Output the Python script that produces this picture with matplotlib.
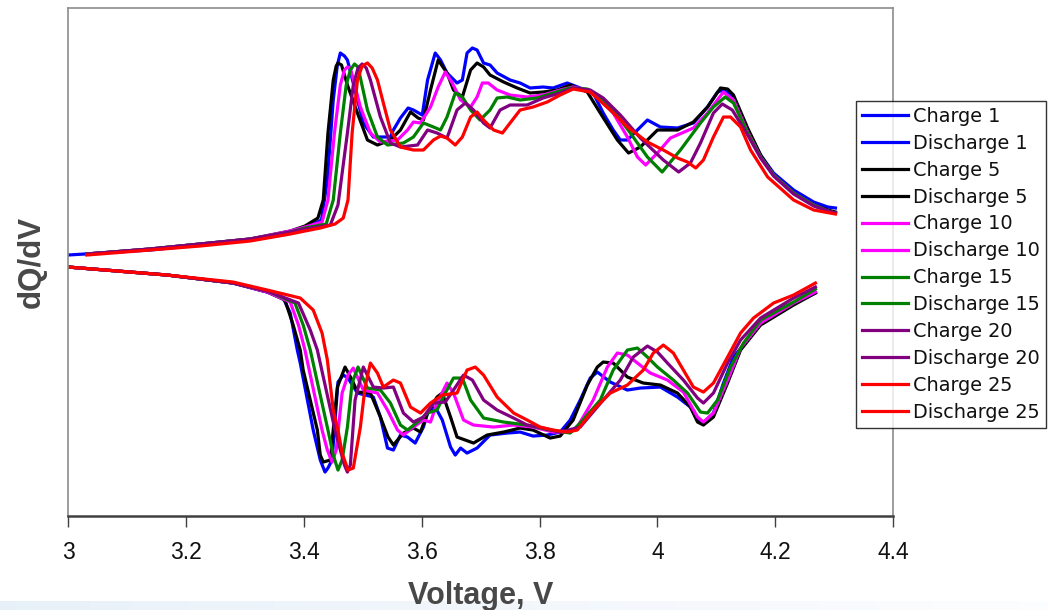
import matplotlib
matplotlib.use("Agg")
import matplotlib.pyplot as plt
import numpy as np

# dQ/dV curves: (voltage V, dQ/dV arbitrary units)
charge_1 = [(3.000, 0.07), (3.139, 0.12), (3.224, 0.17), (3.309, 0.22), (3.377, 0.30), (3.402, 0.34),
            (3.430, 0.42), (3.440, 0.82), (3.450, 1.62), (3.457, 1.97), (3.462, 2.09), (3.469, 2.06),
            (3.474, 2.02), (3.487, 1.72), (3.501, 1.39), (3.518, 1.25), (3.547, 1.25), (3.552, 1.32),
            (3.564, 1.44), (3.577, 1.54), (3.586, 1.52), (3.601, 1.47), (3.610, 1.82), (3.623, 2.09),
            (3.632, 2.02), (3.643, 1.89), (3.660, 1.79), (3.669, 1.82), (3.677, 2.09), (3.686, 2.14),
            (3.694, 2.12), (3.705, 1.99), (3.716, 1.97), (3.728, 1.89), (3.750, 1.82), (3.767, 1.79),
            (3.784, 1.74), (3.806, 1.75), (3.823, 1.74), (3.847, 1.79), (3.869, 1.74), (3.891, 1.69),
            (3.908, 1.49), (3.925, 1.32), (3.937, 1.22), (3.949, 1.22), (3.966, 1.32), (3.983, 1.42),
            (4.005, 1.35), (4.034, 1.34), (4.061, 1.39), (4.085, 1.55), (4.102, 1.70), (4.112, 1.72),
            (4.129, 1.65), (4.153, 1.32), (4.175, 1.07), (4.197, 0.89), (4.231, 0.72), (4.265, 0.60),
            (4.289, 0.55), (4.302, 0.54)]

charge_5 = [(3.032, 0.08), (3.139, 0.13), (3.224, 0.18), (3.309, 0.23), (3.377, 0.31), (3.402, 0.36),
            (3.424, 0.44), (3.433, 0.62), (3.441, 1.29), (3.450, 1.82), (3.455, 1.96), (3.458, 1.99),
            (3.464, 1.97), (3.474, 1.77), (3.491, 1.49), (3.508, 1.22), (3.525, 1.17), (3.547, 1.22),
            (3.564, 1.32), (3.581, 1.50), (3.594, 1.44), (3.603, 1.42), (3.615, 1.72), (3.628, 2.02),
            (3.643, 1.89), (3.654, 1.72), (3.669, 1.65), (3.683, 1.92), (3.694, 1.99), (3.705, 1.95),
            (3.716, 1.87), (3.739, 1.80), (3.762, 1.74), (3.784, 1.69), (3.806, 1.70), (3.830, 1.72),
            (3.852, 1.77), (3.881, 1.70), (3.903, 1.49), (3.932, 1.22), (3.951, 1.09), (3.971, 1.15),
            (4.000, 1.32), (4.034, 1.32), (4.061, 1.40), (4.085, 1.55), (4.107, 1.74), (4.119, 1.73),
            (4.129, 1.67), (4.153, 1.34), (4.175, 1.07), (4.197, 0.87), (4.231, 0.69), (4.265, 0.57),
            (4.289, 0.52), (4.302, 0.50)]

charge_10 = [(3.032, 0.08), (3.139, 0.13), (3.224, 0.18), (3.309, 0.23), (3.377, 0.31), (3.402, 0.35),
             (3.431, 0.40), (3.441, 0.62), (3.452, 1.29), (3.462, 1.77), (3.469, 1.92), (3.474, 1.95),
             (3.479, 1.94), (3.496, 1.55), (3.513, 1.29), (3.530, 1.20), (3.559, 1.22), (3.576, 1.32),
             (3.586, 1.40), (3.598, 1.39), (3.615, 1.55), (3.628, 1.75), (3.640, 1.90), (3.652, 1.79),
             (3.666, 1.62), (3.683, 1.55), (3.694, 1.65), (3.703, 1.79), (3.713, 1.79), (3.728, 1.72),
             (3.750, 1.67), (3.779, 1.65), (3.806, 1.67), (3.835, 1.72), (3.857, 1.75), (3.881, 1.72),
             (3.903, 1.62), (3.925, 1.49), (3.949, 1.25), (3.966, 1.05), (3.980, 0.97), (4.000, 1.09),
             (4.022, 1.24), (4.061, 1.34), (4.085, 1.49), (4.112, 1.70), (4.129, 1.62), (4.153, 1.30),
             (4.175, 1.05), (4.197, 0.87), (4.231, 0.69), (4.265, 0.57), (4.289, 0.51), (4.302, 0.49)]

charge_15 = [(3.032, 0.08), (3.139, 0.13), (3.224, 0.18), (3.309, 0.23), (3.377, 0.30), (3.402, 0.34),
             (3.438, 0.38), (3.450, 0.62), (3.462, 1.29), (3.472, 1.77), (3.479, 1.92), (3.486, 1.98),
             (3.492, 1.95), (3.508, 1.52), (3.525, 1.25), (3.542, 1.17), (3.569, 1.19), (3.586, 1.25),
             (3.603, 1.39), (3.620, 1.35), (3.632, 1.32), (3.643, 1.45), (3.657, 1.69), (3.669, 1.65),
             (3.683, 1.52), (3.699, 1.42), (3.716, 1.52), (3.728, 1.64), (3.745, 1.65), (3.767, 1.62),
             (3.796, 1.64), (3.823, 1.69), (3.852, 1.74), (3.881, 1.73), (3.903, 1.65), (3.925, 1.52),
             (3.954, 1.29), (3.983, 1.05), (4.008, 0.90), (4.039, 1.12), (4.073, 1.39), (4.095, 1.55),
             (4.115, 1.65), (4.129, 1.59), (4.153, 1.29), (4.175, 1.05), (4.197, 0.87), (4.231, 0.69),
             (4.265, 0.57), (4.289, 0.51), (4.302, 0.49)]

charge_20 = [(3.032, 0.08), (3.139, 0.13), (3.224, 0.18), (3.309, 0.23), (3.377, 0.30), (3.402, 0.33),
             (3.445, 0.37), (3.458, 0.57), (3.474, 1.29), (3.484, 1.77), (3.492, 1.94), (3.499, 1.98),
             (3.506, 1.94), (3.513, 1.82), (3.530, 1.45), (3.547, 1.19), (3.564, 1.15), (3.593, 1.17),
             (3.610, 1.32), (3.626, 1.29), (3.643, 1.24), (3.660, 1.52), (3.674, 1.59), (3.688, 1.52),
             (3.705, 1.39), (3.716, 1.34), (3.733, 1.52), (3.750, 1.57), (3.779, 1.57), (3.806, 1.64),
             (3.835, 1.69), (3.857, 1.74), (3.886, 1.72), (3.908, 1.64), (3.937, 1.47), (3.971, 1.24),
             (4.010, 1.02), (4.036, 0.90), (4.056, 0.99), (4.073, 1.19), (4.095, 1.49), (4.110, 1.58),
             (4.127, 1.52), (4.153, 1.27), (4.175, 1.04), (4.197, 0.86), (4.231, 0.68), (4.265, 0.56),
             (4.289, 0.51), (4.302, 0.49)]

charge_25 = [(3.032, 0.07), (3.139, 0.12), (3.224, 0.16), (3.309, 0.21), (3.377, 0.28), (3.402, 0.31),
             (3.428, 0.34), (3.453, 0.38), (3.467, 0.44), (3.475, 0.62), (3.482, 1.29), (3.491, 1.82),
             (3.499, 1.96), (3.508, 1.99), (3.516, 1.94), (3.525, 1.82), (3.535, 1.59), (3.547, 1.32),
             (3.564, 1.15), (3.586, 1.12), (3.603, 1.12), (3.620, 1.22), (3.632, 1.26), (3.643, 1.24),
             (3.657, 1.17), (3.669, 1.25), (3.683, 1.45), (3.694, 1.50), (3.705, 1.42), (3.722, 1.32),
             (3.737, 1.29), (3.750, 1.39), (3.767, 1.52), (3.789, 1.55), (3.813, 1.60), (3.835, 1.67),
             (3.857, 1.73), (3.886, 1.70), (3.920, 1.52), (3.949, 1.35), (3.983, 1.20), (4.010, 1.12),
             (4.034, 1.04), (4.051, 1.00), (4.065, 0.94), (4.078, 1.02), (4.095, 1.25), (4.112, 1.45),
             (4.124, 1.45), (4.141, 1.35), (4.158, 1.12), (4.187, 0.85), (4.231, 0.62), (4.265, 0.52),
             (4.302, 0.48)]

discharge_1 = [(3.000, -0.05), (3.168, -0.13), (3.280, -0.21), (3.338, -0.30), (3.365, -0.36),
               (3.377, -0.51), (3.389, -0.88), (3.394, -1.01), (3.416, -1.68), (3.428, -1.98),
               (3.436, -2.10), (3.441, -2.06), (3.448, -1.98), (3.458, -1.20), (3.467, -1.13),
               (3.475, -1.16), (3.491, -1.31), (3.518, -1.35), (3.530, -1.55), (3.542, -1.86),
               (3.552, -1.88), (3.564, -1.73), (3.576, -1.75), (3.589, -1.81), (3.603, -1.65),
               (3.610, -1.51), (3.623, -1.45), (3.635, -1.58), (3.649, -1.85), (3.657, -1.93),
               (3.666, -1.86), (3.677, -1.91), (3.694, -1.86), (3.716, -1.73), (3.745, -1.71),
               (3.767, -1.70), (3.789, -1.74), (3.813, -1.73), (3.835, -1.70), (3.852, -1.58),
               (3.869, -1.38), (3.886, -1.16), (3.898, -1.10), (3.920, -1.20), (3.949, -1.28),
               (3.971, -1.26), (4.005, -1.25), (4.034, -1.35), (4.056, -1.45), (4.068, -1.58),
               (4.078, -1.61), (4.095, -1.51), (4.112, -1.21), (4.129, -0.95), (4.153, -0.78),
               (4.175, -0.60), (4.204, -0.48), (4.231, -0.41), (4.268, -0.31)]

discharge_5 = [(3.000, -0.05), (3.168, -0.13), (3.280, -0.21), (3.338, -0.30), (3.368, -0.38),
               (3.382, -0.63), (3.394, -0.88), (3.399, -1.08), (3.423, -1.68), (3.428, -1.93),
               (3.433, -2.00), (3.445, -1.98), (3.457, -1.25), (3.470, -1.05), (3.482, -1.18),
               (3.491, -1.30), (3.513, -1.31), (3.530, -1.55), (3.543, -1.75), (3.552, -1.83),
               (3.569, -1.71), (3.586, -1.66), (3.598, -1.70), (3.610, -1.51), (3.626, -1.35),
               (3.635, -1.31), (3.649, -1.55), (3.660, -1.75), (3.688, -1.81), (3.711, -1.73),
               (3.739, -1.70), (3.767, -1.66), (3.789, -1.68), (3.818, -1.76), (3.835, -1.74),
               (3.857, -1.58), (3.881, -1.23), (3.898, -1.05), (3.908, -1.00), (3.925, -1.01),
               (3.949, -1.15), (3.976, -1.21), (4.005, -1.23), (4.034, -1.31), (4.056, -1.45),
               (4.068, -1.60), (4.078, -1.63), (4.095, -1.55), (4.119, -1.21), (4.141, -0.88),
               (4.175, -0.63), (4.231, -0.43), (4.268, -0.31)]

discharge_10 = [(3.000, -0.05), (3.168, -0.13), (3.280, -0.21), (3.338, -0.30), (3.377, -0.40),
                (3.391, -0.63), (3.402, -0.88), (3.431, -1.68), (3.440, -1.88), (3.448, -2.00),
                (3.455, -1.88), (3.465, -1.31), (3.475, -1.13), (3.484, -1.06), (3.501, -1.28),
                (3.525, -1.31), (3.542, -1.48), (3.559, -1.68), (3.569, -1.73), (3.586, -1.65),
                (3.603, -1.58), (3.615, -1.60), (3.626, -1.41), (3.643, -1.21), (3.654, -1.31),
                (3.671, -1.58), (3.688, -1.63), (3.722, -1.65), (3.756, -1.63), (3.789, -1.65),
                (3.823, -1.70), (3.852, -1.70), (3.864, -1.65), (3.891, -1.38), (3.915, -1.05),
                (3.932, -0.91), (3.949, -0.93), (3.966, -1.01), (3.988, -1.11), (4.017, -1.18),
                (4.044, -1.30), (4.068, -1.55), (4.078, -1.60), (4.095, -1.51), (4.119, -1.18),
                (4.141, -0.86), (4.175, -0.61), (4.231, -0.41), (4.268, -0.30)]

discharge_15 = [(3.000, -0.05), (3.168, -0.13), (3.280, -0.21), (3.338, -0.29), (3.385, -0.41),
                (3.399, -0.63), (3.411, -0.88), (3.441, -1.68), (3.450, -1.93), (3.458, -2.08),
                (3.465, -1.98), (3.474, -1.65), (3.482, -1.21), (3.492, -1.05), (3.508, -1.26),
                (3.530, -1.28), (3.547, -1.41), (3.564, -1.63), (3.576, -1.68), (3.593, -1.60),
                (3.610, -1.51), (3.626, -1.48), (3.640, -1.31), (3.654, -1.16), (3.669, -1.16),
                (3.683, -1.38), (3.705, -1.56), (3.739, -1.60), (3.779, -1.63), (3.818, -1.68),
                (3.852, -1.71), (3.869, -1.61), (3.903, -1.38), (3.925, -1.08), (3.949, -0.88),
                (3.966, -0.86), (3.983, -0.95), (4.000, -1.05), (4.027, -1.18), (4.051, -1.31),
                (4.073, -1.50), (4.085, -1.51), (4.102, -1.38), (4.124, -1.05), (4.146, -0.81),
                (4.175, -0.58), (4.231, -0.40), (4.268, -0.27)]

discharge_20 = [(3.000, -0.05), (3.168, -0.13), (3.280, -0.21), (3.338, -0.29), (3.391, -0.41),
                (3.411, -0.68), (3.423, -0.88), (3.453, -1.68), (3.462, -1.88), (3.469, -2.03),
                (3.474, -2.10), (3.479, -2.03), (3.487, -1.38), (3.501, -1.05), (3.518, -1.25),
                (3.535, -1.26), (3.552, -1.25), (3.569, -1.51), (3.586, -1.60), (3.603, -1.55),
                (3.620, -1.41), (3.640, -1.40), (3.654, -1.28), (3.671, -1.13), (3.686, -1.18),
                (3.705, -1.38), (3.728, -1.48), (3.756, -1.56), (3.779, -1.63), (3.806, -1.66),
                (3.835, -1.70), (3.869, -1.65), (3.908, -1.38), (3.937, -1.18), (3.959, -0.95),
                (3.983, -0.84), (4.000, -0.90), (4.017, -1.01), (4.044, -1.18), (4.068, -1.36),
                (4.078, -1.41), (4.095, -1.31), (4.119, -1.01), (4.141, -0.78), (4.175, -0.56),
                (4.231, -0.36), (4.268, -0.25)]

discharge_25 = [(3.000, -0.05), (3.168, -0.13), (3.280, -0.20), (3.338, -0.28), (3.394, -0.36),
                (3.416, -0.48), (3.431, -0.71), (3.440, -0.98), (3.450, -1.48), (3.458, -1.68),
                (3.465, -1.91), (3.475, -2.08), (3.484, -2.06), (3.496, -1.65), (3.504, -1.25),
                (3.513, -1.01), (3.525, -1.11), (3.535, -1.25), (3.552, -1.18), (3.564, -1.21),
                (3.581, -1.45), (3.598, -1.51), (3.615, -1.41), (3.635, -1.33), (3.660, -1.31),
                (3.677, -1.08), (3.691, -1.05), (3.705, -1.13), (3.728, -1.35), (3.756, -1.51),
                (3.779, -1.58), (3.801, -1.65), (3.823, -1.68), (3.847, -1.70), (3.864, -1.68),
                (3.891, -1.48), (3.920, -1.31), (3.949, -1.23), (3.976, -1.08), (3.993, -0.91),
                (4.010, -0.83), (4.027, -0.91), (4.044, -1.08), (4.061, -1.25), (4.078, -1.30),
                (4.095, -1.21), (4.119, -0.95), (4.141, -0.71), (4.163, -0.56), (4.197, -0.41),
                (4.231, -0.33), (4.268, -0.21)]

series = [
    ("Charge 1", charge_1, "#0000FF"),
    ("Discharge 1", discharge_1, "#0000FF"),
    ("Charge 5", charge_5, "#000000"),
    ("Discharge 5", discharge_5, "#000000"),
    ("Charge 10", charge_10, "#FF00FF"),
    ("Discharge 10", discharge_10, "#FF00FF"),
    ("Charge 15", charge_15, "#008000"),
    ("Discharge 15", discharge_15, "#008000"),
    ("Charge 20", charge_20, "#800080"),
    ("Discharge 20", discharge_20, "#800080"),
    ("Charge 25", charge_25, "#FF0000"),
    ("Discharge 25", discharge_25, "#FF0000"),
]

fig = plt.figure(figsize=(10.48, 6.10), dpi=100)

# faint slide-edge band along the bottom of the screenshot
band = fig.add_axes([0, 0, 1, 0.014])
band.imshow(np.linspace(0, 1, 256).reshape(1, -1), aspect="auto", cmap="Blues_r",
            vmin=-2.5, vmax=1.0, alpha=0.35)
band.axis("off")

ax = fig.add_axes([0.0649, 0.154, 0.7874, 0.8329])

for name, pts, col in series:
    xs = [p[0] for p in pts]
    ys = [p[1] for p in pts]
    ax.plot(xs, ys, color=col, lw=2.3, label=name, solid_joinstyle="round")

ax.set_xlim(3.0, 4.4)
ax.set_ylim(-2.54, 2.54)
ax.set_xticks([3.0, 3.2, 3.4, 3.6, 3.8, 4.0, 4.2, 4.4])
ax.set_xticklabels(["3", "3.2", "3.4", "3.6", "3.8", "4", "4.2", "4.4"])
ax.set_yticks([])

for s in ["left", "top", "right"]:
    ax.spines[s].set_color("#8c8c8c")
    ax.spines[s].set_linewidth(1.2)
ax.spines["bottom"].set_color("#404040")
ax.spines["bottom"].set_linewidth(1.8)

ax.tick_params(axis="x", direction="out", length=8, width=1, color="#404040", pad=10)
for lab in ax.get_xticklabels():
    lab.set_fontfamily(["Liberation Sans", "DejaVu Sans"])
    lab.set_fontsize(16.5)
    lab.set_color("#111111")

ax.set_xlabel("Voltage, V", fontsize=22, fontweight="bold", color="#484848",
              family=["Liberation Sans", "DejaVu Sans"], labelpad=12)
ax.set_ylabel("dQ/dV", fontsize=22.5, fontweight="bold", color="#484848",
              family=["Liberation Sans", "DejaVu Sans"], labelpad=15)

leg = fig.legend(loc="upper left", bbox_to_anchor=(0.8168, 0.8344), frameon=True, fancybox=False,
                 edgecolor="#000000", fontsize=13.9, handlelength=2.4, handletextpad=0.26,
                 labelspacing=0.41, borderpad=0.3, borderaxespad=0)
leg.get_frame().set_linewidth(1.0)
for t in leg.get_texts():
    t.set_color("#111111")

fig.savefig("out.png", dpi=100)
